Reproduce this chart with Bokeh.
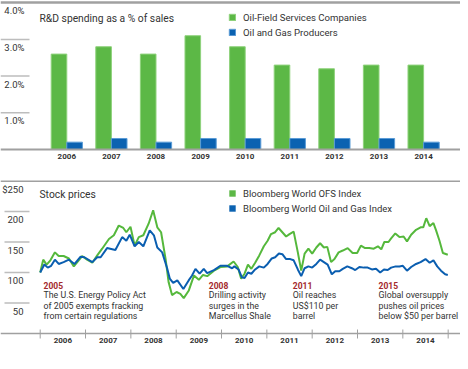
import numpy as np
from bokeh.plotting import figure
from bokeh.models import ColumnDataSource, Span, Legend, LegendItem
from bokeh.layouts import column
from bokeh.core.properties import value
from bokeh.transform import dodge
from bokeh.embed import file_html
from bokeh.resources import INLINE

# ---------------- data ----------------
years = [2006, 2007, 2008, 2009, 2010, 2011, 2012, 2013, 2014]
ofs_rd_pct = [2.6, 2.8, 2.6, 3.1, 2.8, 2.3, 2.2, 2.3, 2.3]
producers_rd_pct = [0.2, 0.3, 0.2, 0.3, 0.3, 0.3, 0.3, 0.3, 0.2]
pct_ticks = [1, 2, 3, 4]
pct_labels = ["1.0%", "2.0%", "3.0%", "4.0%"]

# months since Jan 2006, index level (rebased to 100)
ofs_months = [0, 0.8, 1.7, 2.7, 3.9, 4.9, 6.2, 7.6, 8.9, 10.2, 11.1, 12.4, 13.8, 15.1,
              16.4, 18.2, 19.5, 20.8, 22.0, 22.8, 23.9, 25.0, 26.1, 27.3, 28.7, 29.9,
              31.0, 32.0, 33.2, 34.0, 34.9, 36.1, 37.1, 38.0, 39.3, 40.7, 42.0, 43.1,
              44.2, 46.0, 47.7, 49.5, 51.2, 52.3, 53.2, 54.1, 55.0, 55.9, 56.9, 58.0,
              59.2, 60.2, 61.1, 62.2, 63.1, 64.1, 65.1, 66.0, 67.1, 68.2, 69.1, 70.0,
              71.0, 72.0, 73.1, 74.1, 75.1, 76.0, 77.0, 77.9, 79.0, 80.1, 81.4, 82.7,
              83.9, 84.9, 86.0, 87.1, 88.3, 89.4, 90.3, 91.1, 92.2, 92.9, 94.0, 95.1,
              96.2, 97.1, 98.2, 99.5, 100.7, 101.4, 102.2, 103.1, 104.1, 104.8, 105.7,
              106.6, 107.9]
ofs_index = [100, 121, 113, 120, 133, 127, 127, 123, 110, 120, 127, 121, 116, 128,
             139, 155, 161, 177, 173, 166, 175, 144, 158, 161, 180, 202,
             174, 166, 122, 84, 63, 68, 65, 58, 70, 95, 88, 96,
             94, 103, 109, 110, 118, 109, 90, 98, 113, 106, 116, 128,
             143, 152, 163, 166, 173, 166, 159, 163, 167, 133, 103, 131,
             139, 131, 141, 148, 141, 142, 117, 122, 133, 136, 140, 132,
             132, 144, 140, 140, 139, 143, 138, 150, 150, 156, 164, 158,
             159, 151, 162, 170, 174, 174, 189, 176, 181, 169, 152,
             132, 129]

og_months = [0, 1.1, 2.0, 2.9, 3.9, 4.9, 6.2, 7.6, 9.1, 10.7, 11.7, 13.8, 15.1, 16.0,
             17.7, 19.9, 21.7, 22.8, 23.7, 25.0, 26.1, 27.3, 29.0, 30.1, 31.0, 32.3,
             33.6, 34.3, 35.2, 36.3, 37.9, 39.3, 40.2, 41.1, 42.2, 43.3, 44.2, 46.0,
             47.7, 49.5, 50.8, 51.4, 52.5, 53.4, 54.1, 55.0, 55.9, 56.9, 58.0, 59.2,
             60.2, 61.3, 62.2, 63.2, 64.1, 65.1, 66.2, 67.1, 68.2, 69.1, 70.0, 71.0,
             72.0, 73.1, 74.1, 75.1, 76.1, 77.2, 78.1, 79.2, 80.1, 81.3, 82.5, 83.4,
             84.5, 85.7, 86.7, 87.8, 88.9, 90.0, 91.0, 92.0, 92.9, 94.1, 95.1, 96.0,
             97.1, 98.2, 99.5, 100.7, 102.0, 103.1, 104.1, 105.1, 106.1, 107.2, 107.9]
og_index = [100, 113, 108, 111, 121, 114, 117, 121, 114, 126, 125, 117, 125, 125,
            140, 137, 158, 152, 162, 143, 150, 143, 169, 161, 141, 133,
            107, 90, 83, 87, 73, 87, 95, 106, 98, 106, 99, 104,
            111, 111, 107, 110, 105, 92, 91, 100, 98, 105, 110, 108,
            114, 123, 125, 131, 130, 122, 122, 120, 105, 94, 107, 110,
            108, 114, 121, 117, 113, 97, 102, 102, 106, 110, 107, 104,
            109, 108, 108, 105, 106, 100, 105, 104, 108, 110, 110, 111,
            103, 109, 114, 117, 122, 116, 120, 110, 103, 97, 96]

price_ticks = [50, 100, 150, 200, 250]
price_labels = ["50", "100", "150", "200", "$250"]
axis_years = [2006, 2007, 2008, 2009, 2010, 2011, 2012, 2013, 2014, 2015]

events = ["2005", "2008", "2011", "2015"]
event_lines = [
    ["The U.S. Energy Policy Act", "of 2005 exempts fracking", "from certain regulations"],
    ["Drilling activity", "surges in the", "Marcellus Shale"],
    ["Oil reaches", "US$110 per", "barrel"],
    ["Global oversupply", "pushes oil prices", "below $50 per barrel"],
]

# ---------------- styles ----------------
GREEN = "#5cb846"
GREEN_EDGE = "#8fd27c"
BLUE = "#0b62b1"
BLUE_EDGE = "#5a9bd6"
GREEN_LINE = "#55b83c"
BLUE_LINE = "#0a5eb0"
RULE = "#a0a0a0"
GRID = "#bdbdbd"
TEXT = "#333333"
RED = "#a3292c"
FONT_NAME = "Roboto"
FONT = value(FONT_NAME)
W = 460
H1 = 180
H2 = 181

# layout helpers (pixel in picture -> data), positions only
def X1(px): return 2006 + (px - 66.3) / 44.6
def Y1(py): return (149 - py) / 36.7
def X2(px): return 2006 + (px - 39.7) / 45.33
def Y2(py): return (333 - py) * 50 / 30.5

def base_fig(h, xr, yr):
    p = figure(width=W, height=h, x_range=xr, y_range=yr, output_backend="svg",
               toolbar_location=None, min_border=0, min_border_left=0, min_border_right=0,
               min_border_top=0, min_border_bottom=0, outline_line_color=None,
               x_axis_location=None, y_axis_location=None, background_fill_color="white",
               border_fill_color="white")
    p.grid.visible = False
    return p

# ---------------- top: R&D bars ----------------
p1 = base_fig(H1, (X1(0), X1(W)), (Y1(H1), Y1(0)))
src1 = ColumnDataSource(dict(year=years, ofs=ofs_rd_pct, og=producers_rd_pct,
                             lab=[str(y) for y in years]))
r_ofs = p1.vbar(x=dodge("year", -0.175, range=p1.x_range), top="ofs", bottom=0, width=0.35,
                source=src1, fill_color=GREEN, line_color=GREEN_EDGE, line_width=1)
r_og = p1.vbar(x=dodge("year", 0.175, range=p1.x_range), top="og", bottom=0, width=0.35,
               source=src1, fill_color=BLUE, line_color=BLUE_EDGE, line_width=1)

p1.add_layout(Span(location=0, dimension="width", line_color=RULE, line_width=2))
p1.add_layout(Span(location=Y1(2), dimension="width", line_color=RULE, line_width=2.5))
gl = [t for t in pct_ticks if t < 4]
p1.segment(x0=[X1(0)] * len(gl), x1=[X1(29)] * len(gl), y0=gl, y1=gl,
           line_color=GRID, line_width=1.5)
p1.text(x=[X1(24)] * len(pct_ticks), y=pct_ticks, text=pct_labels, text_align="right",
        text_baseline="middle", y_offset=8,
        text_font=FONT, text_font_size="9.5px", text_color=TEXT)
p1.text(x="year", y=0, text="lab", source=src1, text_align="center", text_baseline="middle",
        y_offset=6.5, text_font=FONT, text_font_size="8px", text_font_style="bold",
        text_color=TEXT)
p1.text(x=[X1(39)], y=[Y1(18)], text=["R&D spending as a % of sales"], text_align="left",
        text_baseline="middle", text_font=FONT, text_font_size="10.3px", text_color=TEXT)

leg1 = Legend(items=[LegendItem(label="Oil-Field Services Companies", renderers=[r_ofs]),
                     LegendItem(label="Oil and Gas Producers", renderers=[r_og])],
              location=(228, H1 - 38), glyph_width=8, glyph_height=8, label_height=12,
              spacing=3, padding=0, margin=0, label_standoff=7, border_line_color=None,
              background_fill_alpha=0, label_text_font=FONT_NAME, label_text_font_size="9.6px",
              label_text_color=TEXT)
p1.add_layout(leg1)

# ---------------- bottom: stock prices ----------------
p2 = base_fig(H2, (X2(0), X2(W)), (Y2(H1 + H2), Y2(H1)))
t_ofs = [2006 + m / 12 for m in ofs_months]
t_og = [2006 + m / 12 for m in og_months]
p2.add_layout(Span(location=250, dimension="width", line_color=RULE, line_width=2))
p2.add_layout(Span(location=0, dimension="width", line_color=RULE, line_width=1.5))
gl2 = [t for t in price_ticks if t < 250]
p2.segment(x0=[X2(4)] * len(gl2), x1=[X2(29)] * len(gl2), y0=gl2, y1=gl2,
           line_color=GRID, line_width=1.5)
p2.segment(x0=axis_years, x1=axis_years, y0=[Y2(329)] * len(axis_years),
           y1=[Y2(338)] * len(axis_years), line_color=RULE, line_width=1)
p2.text(x=[X2(23)] * len(price_ticks), y=price_ticks, text=price_labels, text_align="right",
        text_baseline="middle", y_offset=8, text_font=FONT, text_font_size="9.5px",
        text_color=TEXT)
p2.text(x=[y + 0.5 for y in years], y=[0] * len(years), text=[str(y) for y in years],
        text_align="center", text_baseline="middle", y_offset=6.5, text_font=FONT,
        text_font_size="8px", text_font_style="bold", text_color=TEXT)
p2.text(x=[X2(39)], y=[Y2(194)], text=["Stock prices"], text_align="left",
        text_baseline="middle", text_font=FONT, text_font_size="10.3px", text_color=TEXT)

p2.line(t_ofs, ofs_index, line_color=GREEN_LINE, line_width=2)
p2.line(t_og, og_index, line_color=BLUE_LINE, line_width=2)

# legend swatches: zero-height square proxies at the series' first point
sw_ofs = p2.vbar(x=[t_ofs[0]], top=[0], bottom=[0], width=0.1, fill_color=GREEN,
                 line_color=GREEN_EDGE, line_alpha=0)
sw_og = p2.vbar(x=[t_og[0]], top=[0], bottom=[0], width=0.1, fill_color=BLUE,
                line_color=BLUE_EDGE, line_alpha=0)
leg2 = Legend(items=[LegendItem(label="Bloomberg World OFS Index", renderers=[sw_ofs]),
                     LegendItem(label="Bloomberg World Oil and Gas Index", renderers=[sw_og])],
              location=(228, H1 + H2 - 214), glyph_width=8, glyph_height=8, label_height=12,
              spacing=3, padding=0, margin=0, label_standoff=7, border_line_color=None,
              background_fill_alpha=0, label_text_font=FONT_NAME, label_text_font_size="9.5px",
              label_text_color=TEXT)
p2.add_layout(leg2)

# event annotations
ev_x = [43, 208.3, 292.3, 378]
p2.text(x=[X2(px) for px in ev_x], y=[Y2(285)] * 4, text=events, text_align="left",
        text_baseline="middle", text_font=FONT, text_font_size="8.5px",
        text_font_style="bold", text_color=RED)
line_y = [294.3, 305, 315.7]
ax, ay, at = [], [], []
for px, lines in zip(ev_x, event_lines):
    for py, s in zip(line_y, lines):
        ax.append(X2(px)); ay.append(Y2(py)); at.append(s)
p2.text(x=ax, y=ay, text=at, text_align="left", text_baseline="middle", text_font=FONT,
        text_font_size="8.8px", text_color=TEXT)

layout = column(p1, p2, spacing=0)
open("out.html", "w").write(file_html(layout, INLINE))
